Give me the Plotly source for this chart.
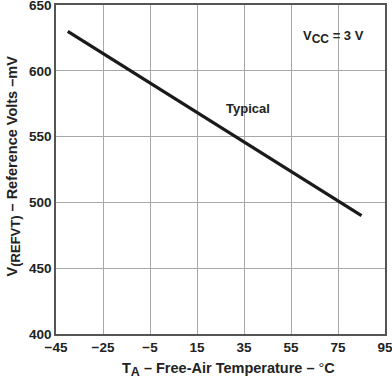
import plotly.graph_objects as go

temp_c = [-40, 85]
vref_mv = [630, 490]
x_ticks = [-45, -25, -5, 15, 35, 55, 75, 95]
x_tick_labels = ["\u221245", "\u221225", "\u22125", "15", "35", "55", "75", "95"]
y_ticks = [400, 450, 500, 550, 600, 650]

font_family = "Liberation Sans, Arial, sans-serif"
tick_font = dict(family=font_family, size=13.5, color="#222", weight="bold")
title_font = dict(family=font_family, size=14.5, color="#222")

fig = go.Figure()
fig.add_trace(go.Scatter(x=temp_c, y=vref_mv, mode="lines",
                         line=dict(color="#1a1a1a", width=3.2),
                         showlegend=False, hoverinfo="skip"))

fig.add_annotation(x=36.5, y=571, text="<b>Typical</b>", showarrow=False,
                   font=dict(family=font_family, size=13, color="#222"))
fig.add_annotation(x=73, y=626,
                   text="<b>V<sub><span style='font-size:12px'>CC</span></sub> = 3 V</b>",
                   showarrow=False, font=dict(family=font_family, size=13, color="#222"))

axis_common = dict(showgrid=True, gridcolor="#a8a8a8", gridwidth=1,
                   showline=True, linecolor="#555", linewidth=1.5, mirror=True,
                   ticks="", zeroline=False, automargin=False, tickfont=tick_font,
                   ticklabeloverflow="allow")

fig.update_xaxes(range=[-45, 95], tickvals=x_ticks, ticktext=x_tick_labels, **axis_common)
fig.update_yaxes(range=[400, 650], tickvals=y_ticks, **axis_common)

# axis titles placed precisely in paper coordinates
fig.add_annotation(xref="paper", yref="paper", x=0.525, y=-0.073, yanchor="top",
                   text="<b>T<sub><span style='font-size:12.5px'>A</span></sub> \u2013 Free-Air Temperature \u2013 </b>\u00b0<b>C</b>",
                   showarrow=False, font=title_font)
fig.add_annotation(xref="paper", yref="paper", x=-0.165, y=0.51, textangle=-90,
                   text="<b>V<sub><span style='font-size:13px'>(REFVT)</span></sub> \u2013 Reference Volts \u2013mV</b>",
                   showarrow=False, font=title_font)

fig.update_layout(width=392, height=377, margin=dict(l=56, r=7, t=5, b=43),
                  plot_bgcolor="white", paper_bgcolor="white")

fig.write_html("out.html", config={"displayModeBar": False},
               post_script="document.body.style.margin='0';document.body.style.overflow='hidden';")
